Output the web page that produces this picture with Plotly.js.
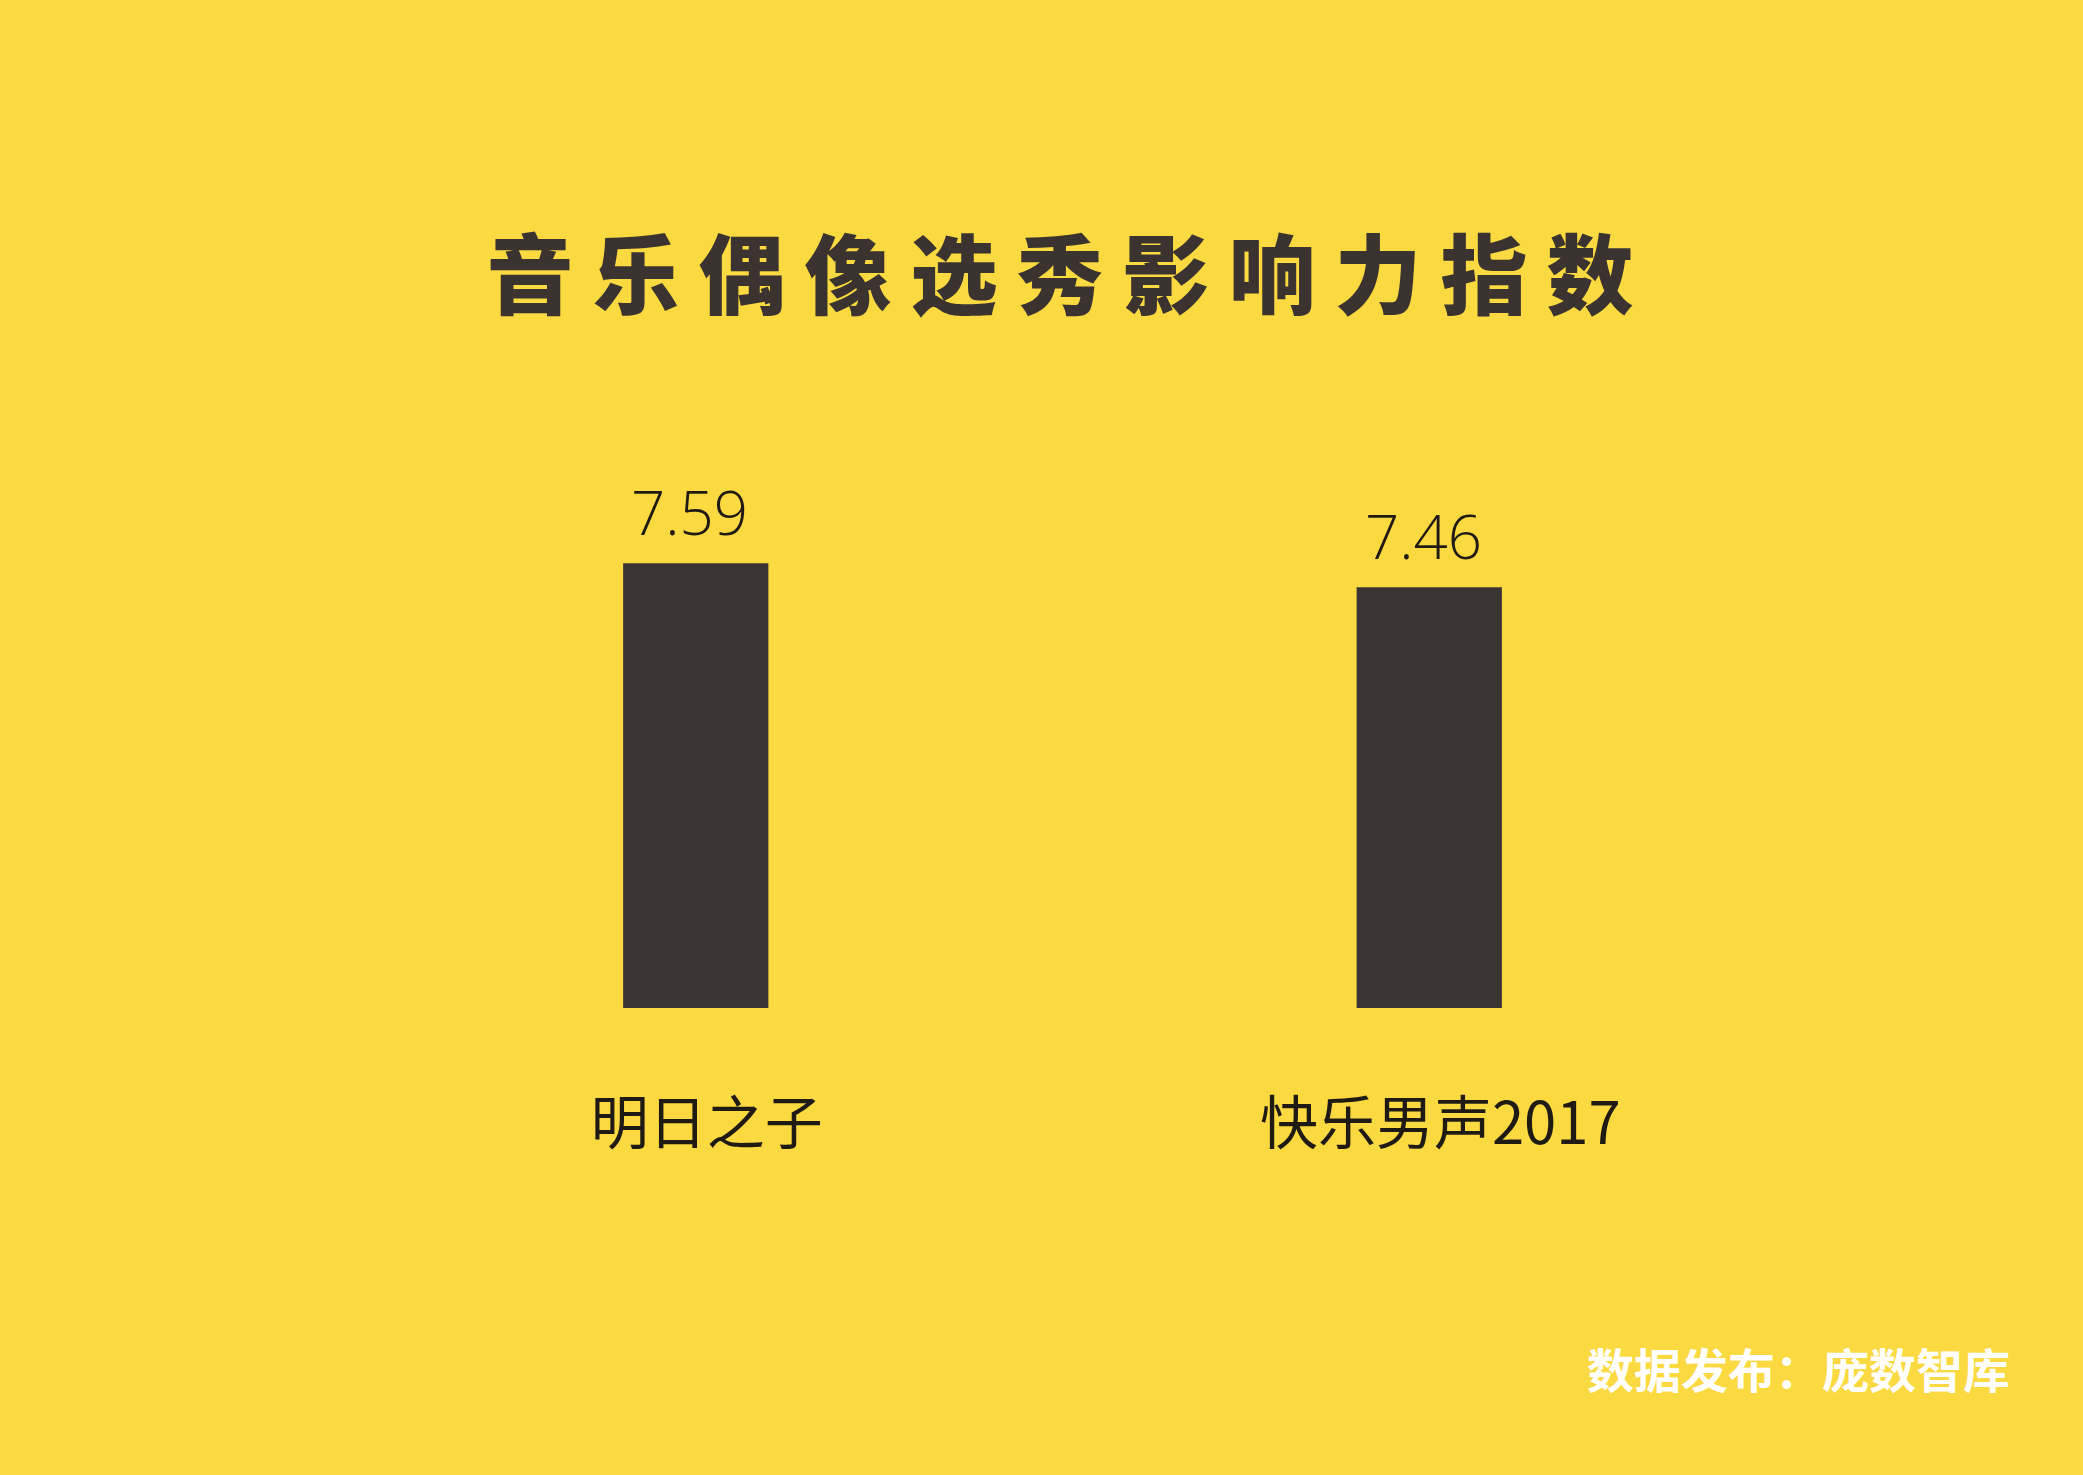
<!DOCTYPE html>
<html>
<head>
<meta charset="utf-8">
<script src="https://cdn.plot.ly/plotly-3.0.1.min.js"></script>
<style>
  html, body { margin: 0; padding: 0; background: #FBD940; }
  #chart { width: 2083px; height: 1475px; }
</style>
</head>
<body>
<div id="chart"></div>
<script>
const categories = ["明日之子", "快乐男声2017"];
const values = [7.59, 7.46];
const valueLabels = ["7.59", "7.46"];
const titleText = "音乐偶像选秀影响力指数";
const sourceText = "数据发布：庞数智库";

const bg = "#FBD940";
const barColor = "#3B3434";
const textDark = "#1F1A14";

const trace = {
  type: "bar",
  x: categories,
  y: values,
  marker: { color: barColor, line: { width: 0 } },
  hoverinfo: "skip",
  cliponaxis: false
};

const annotations = categories.map((c, i) => ({
  x: c, y: values[i], xref: "x", yref: "y",
  text: valueLabels[i],
  showarrow: false,
  yanchor: "bottom",
  xshift: -6,
  yshift: 8,
  font: { family: "Open Sans, Lato, sans-serif", size: 60, color: textDark, weight: 300 }
}));

annotations.push({
  x: (2012 - 329) / 1467, y: (1008 - 1367) / 608, xref: "paper", yref: "paper",
  text: sourceText, showarrow: false, xanchor: "right", yanchor: "middle",
  font: { family: "Noto Sans CJK SC, sans-serif", size: 47, color: "#FFFFFF", weight: 700 }
});

const layout = {
  width: 2083,
  height: 1475,
  paper_bgcolor: bg,
  plot_bgcolor: bg,
  showlegend: false,
  margin: { l: 329, r: 287, t: 400, b: 467, pad: 0 },
  bargap: 0.802,
  title: {
    text: titleText,
    x: 0.5135, xanchor: "center",
    y: 1 - 278 / 1475, yanchor: "middle",
    yref: "container",
    font: { family: "Noto Sans CJK SC, sans-serif", size: 87, color: "#3A3330", weight: 900 }
  },
  xaxis: {
    type: "category",
    range: [-0.5, 1.5],
    showgrid: false, zeroline: false, showline: false,
    ticks: "",
    ticklabelstandoff: 77,
    ticklabelshift: 11,
    tickfont: { family: "Noto Sans CJK SC, sans-serif", size: 58, color: textDark }
  },
  yaxis: {
    range: [5.18, 8.474],
    showgrid: false, zeroline: false, showline: false,
    showticklabels: false, ticks: ""
  },
  annotations: annotations
};

Plotly.newPlot("chart", [trace], layout, { displayModeBar: false, staticPlot: true }).then(() => {
  document.querySelectorAll(".gtitle").forEach(el => {
    el.style.letterSpacing = "19px";
  });
});
</script>
</body>
</html>
